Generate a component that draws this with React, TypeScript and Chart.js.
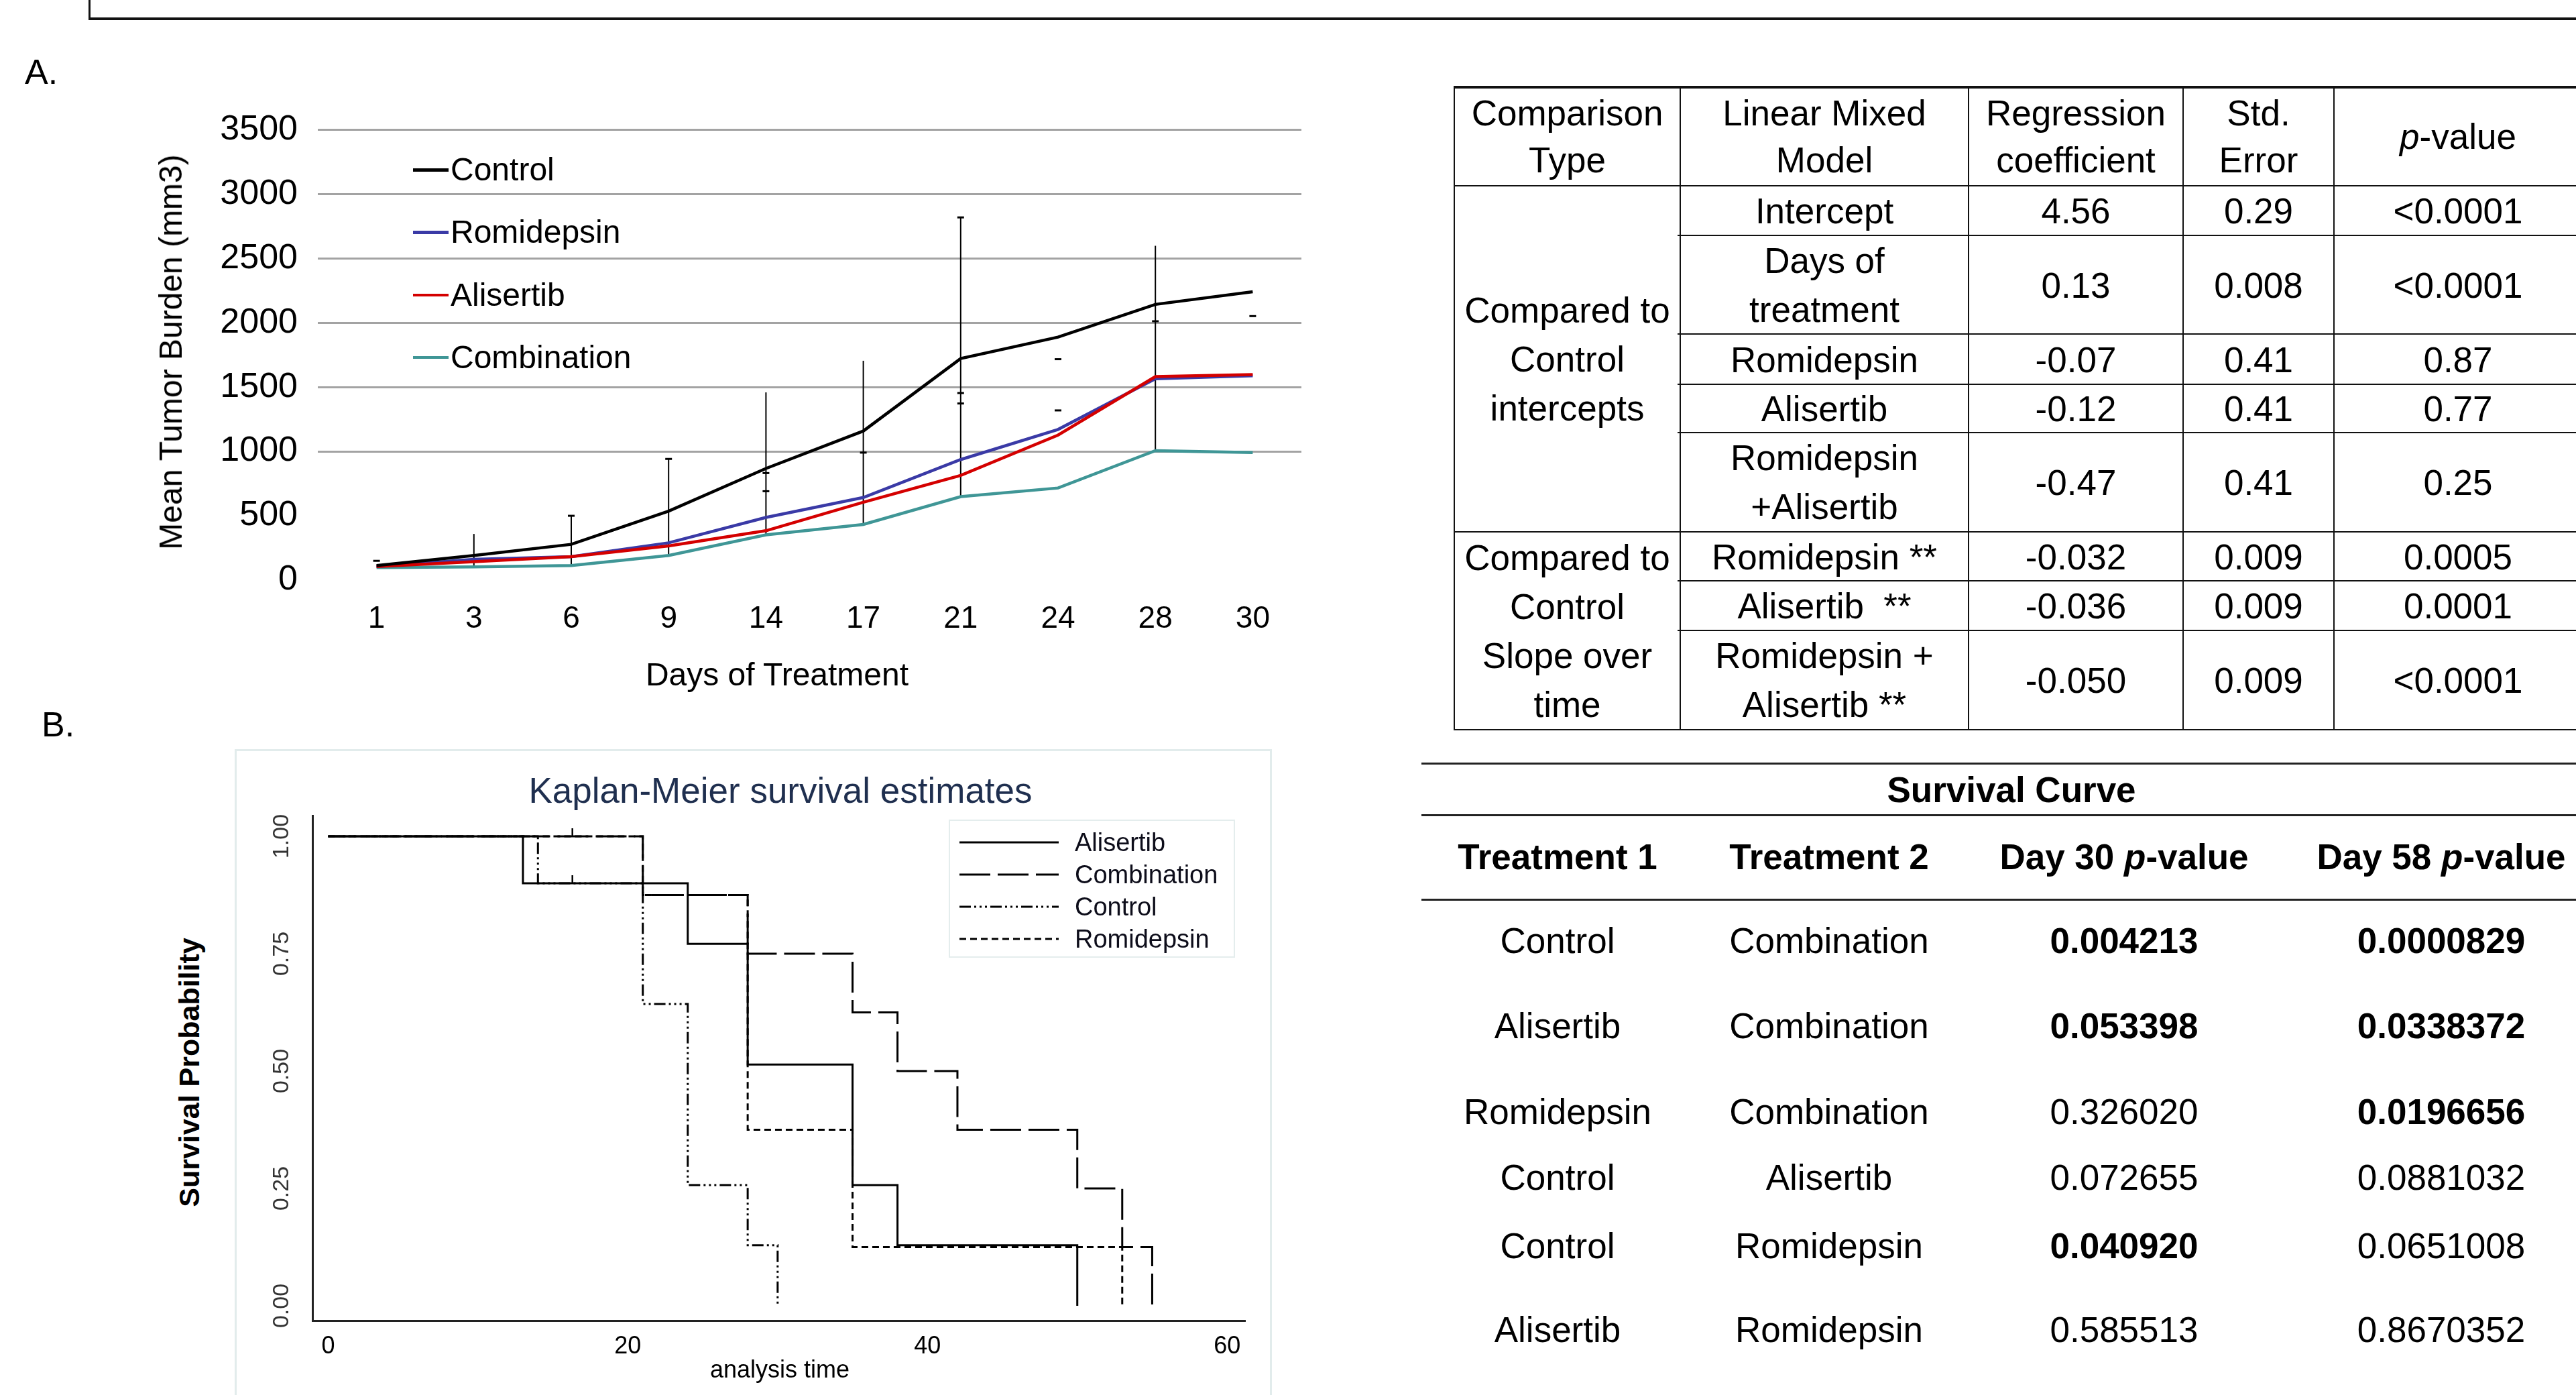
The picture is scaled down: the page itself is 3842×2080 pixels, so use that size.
import React, { useEffect, useRef } from "react";
import { Chart, registerables } from "chart.js";

Chart.register(...registerables);

const FONT = "'Liberation Sans', Arial, Helvetica, sans-serif";

// ---------------- Panel A: tumour burden ----------------
const days = ["1", "3", "6", "9", "14", "17", "21", "24", "28", "30"];
const controlMean = [113, 192, 278, 536, 868, 1159, 1722, 1889, 2143, 2241];
const romidepsinMean = [106, 162, 182, 290, 487, 642, 937, 1171, 1565, 1589];
const alisertibMean = [106, 143, 182, 266, 384, 605, 814, 1127, 1582, 1597];
const combinationMean = [98, 103, 113, 192, 352, 433, 649, 716, 1006, 991];
const errorBarLow = [null, 113, 113, 199, 347, 433, 649, null, 1006, null];
const errorBarHigh = [null, 359, 500, 942, 1459, 1705, 2819, null, 2598, null];
const errorBarCaps = [[150], [], [500], [942], [832, 691], [991], [1454, 1373, 2819], [1717, 1319], [2012], [2052]];
const tumorMin = 0;
const tumorMax = 3500;
const tumorStep = 500;
const tumorGridFrom = 1000;
const seriesNamesA = ["Control", "Romidepsin", "Alisertib", "Combination"];
const seriesColorsA = ["#000000", "#3a3aa6", "#d40000", "#3f9696"];

// ---------------- Panel B: Kaplan-Meier ----------------
const kmNames = ["Alisertib", "Combination", "Control", "Romidepsin"];
const kmTimeAlisertib = [0, 13, 24, 28, 35, 38, 50];
const kmSurvAlisertib = [1, 0.9, 0.771, 0.514, 0.257, 0.129, 0];
const kmTimeCombination = [0, 21, 28, 35, 38, 42, 50, 53, 55];
const kmSurvCombination = [1, 0.875, 0.75, 0.625, 0.5, 0.375, 0.25, 0.125, 0];
const kmTimeControl = [0, 14, 21, 24, 28, 30];
const kmSurvControl = [1, 0.9, 0.643, 0.257, 0.129, 0];
const kmTimeRomidepsin = [0, 21, 28, 35, 53];
const kmSurvRomidepsin = [1, 0.875, 0.375, 0.125, 0];
const kmCensorTime = [16.3, 16.3];
const kmCensorSurv = [1, 0.9];
const kmTimeTicks = [0, 20, 40, 60];
const kmSurvTicks = [0, 0.25, 0.5, 0.75, 1];
const kmDashes = [[], [46, 11], [17, 5, 3, 5, 3, 5, 3, 5], [10, 6]];

// ---------------- Regression table ----------------
const regHeaders = ["Comparison\nType", "Linear Mixed\nModel", "Regression\ncoefficient", "Std.\nError", "p-value"];
const regGroups = ["Compared to\nControl\nintercepts", "Compared to\nControl\nSlope over\ntime"];
const regGroupSpans = [5, 3];
const regModel = ["Intercept", "Days of\ntreatment", "Romidepsin", "Alisertib", "Romidepsin\n+Alisertib", "Romidepsin **", "Alisertib  **", "Romidepsin +\nAlisertib **"];
const regCoef = ["4.56", "0.13", "-0.07", "-0.12", "-0.47", "-0.032", "-0.036", "-0.050"];
const regSE = ["0.29", "0.008", "0.41", "0.41", "0.41", "0.009", "0.009", "0.009"];
const regP = ["<0.0001", "<0.0001", "0.87", "0.77", "0.25", "0.0005", "0.0001", "<0.0001"];

// ---------------- Survival table ----------------
const survTitle = "Survival Curve";
const survT1 = ["Control", "Alisertib", "Romidepsin", "Control", "Control", "Alisertib"];
const survT2 = ["Combination", "Combination", "Combination", "Alisertib", "Romidepsin", "Romidepsin"];
const survP30 = ["0.004213", "0.053398", "0.326020", "0.072655", "0.040920", "0.585513"];
const survP58 = ["0.0000829", "0.0338372", "0.0196656", "0.0881032", "0.0651008", "0.8670352"];
const survP30Bold = [true, true, false, false, true, false];
const survP58Bold = [true, true, true, false, false, false];

// ---------------- layout (page pixels) ----------------
const A_CANVAS = { left: 0, top: 100, width: 2000, height: 1000 };
const B_CANVAS = { left: 350, top: 1117, width: 1550, height: 963 };
const REG_COLS = [2169, 2506, 2936, 3256, 3481, 3851];
const REG_ROWS = [130, 277, 351, 498, 573, 645, 793, 866, 940, 1088];
const SURV_COLS = [2323, 2728, 3168, 3641];
const SURV_ROWS = [1402, 1529, 1657, 1755, 1857, 1982];

const errorBarPlugin = {
  id: "errorBars",
  beforeDatasetsDraw(chart: any) {
    const { ctx } = chart;
    const x = chart.scales.x;
    const y = chart.scales.y;
    ctx.save();
    ctx.strokeStyle = "#000";
    days.forEach((_, i) => {
      const px = x.getPixelForValue(i);
      const lo = errorBarLow[i];
      const hi = errorBarHigh[i];
      if (lo != null && hi != null) {
        ctx.lineWidth = 2;
        ctx.beginPath();
        ctx.moveTo(px, y.getPixelForValue(lo));
        ctx.lineTo(px, y.getPixelForValue(hi));
        ctx.stroke();
      }
      ctx.lineWidth = 3;
      errorBarCaps[i].forEach((v) => {
        const py = y.getPixelForValue(v);
        ctx.beginPath();
        ctx.moveTo(px - 5, py);
        ctx.lineTo(px + 5, py);
        ctx.stroke();
      });
    });
    ctx.restore();
  },
};

const kmPlugin = {
  id: "kmExtras",
  afterDatasetsDraw(chart: any) {
    const { ctx } = chart;
    const x = chart.scales.x;
    const y = chart.scales.y;
    ctx.save();
    ctx.strokeStyle = "#000";
    ctx.lineWidth = 2.5;
    kmCensorTime.forEach((t, i) => {
      const px = x.getPixelForValue(t);
      const py = y.getPixelForValue(kmCensorSurv[i]);
      ctx.beginPath();
      ctx.moveTo(px, py);
      ctx.lineTo(px, py - 12);
      ctx.stroke();
    });
    ctx.fillStyle = "#333";
    ctx.font = `34px ${FONT}`;
    ctx.textAlign = "center";
    ctx.textBaseline = "middle";
    kmSurvTicks.forEach((v) => {
      const py = y.getPixelForValue(v);
      ctx.save();
      ctx.translate(x.left - 45, py);
      ctx.rotate(-Math.PI / 2);
      ctx.fillText(v.toFixed(2), 0, 0);
      ctx.restore();
    });
    ctx.restore();
  },
};

function kmPoints(times: number[], surv: number[]) {
  return times.map((t, i) => ({ x: t, y: surv[i] }));
}

type TxtProps = {
  x: number;
  y: number;
  size: number;
  children: React.ReactNode;
  align?: "center" | "left";
  bold?: boolean;
  color?: string;
  rotate?: boolean;
  lineHeight?: number;
};

function Txt({ x, y, size, children, align = "center", bold, color = "#000", rotate, lineHeight }: TxtProps) {
  const tx = align === "center" ? "-50%" : "0";
  return (
    <div
      style={{
        position: "absolute",
        left: x,
        top: y,
        fontSize: size,
        lineHeight: `${lineHeight ?? size}px`,
        fontFamily: FONT,
        fontWeight: bold ? 700 : 400,
        color,
        whiteSpace: "pre",
        textAlign: "center",
        transform: `translate(${tx}, -50%)${rotate ? " rotate(-90deg)" : ""}`,
        transformOrigin: align === "center" ? "50% 50%" : "0 50%",
      }}
    >
      {children}
    </div>
  );
}

function HLine({ x1, x2, y, w = 3, color = "#111" }: { x1: number; x2: number; y: number; w?: number; color?: string }) {
  return <div style={{ position: "absolute", left: x1, top: y - w / 2, width: x2 - x1, height: w, background: color }} />;
}
function VLine({ x, y1, y2, w = 3, color = "#111" }: { x: number; y1: number; y2: number; w?: number; color?: string }) {
  return <div style={{ position: "absolute", left: x - w / 2, top: y1, width: w, height: y2 - y1, background: color }} />;
}

function PValueLabel({ prefix }: { prefix?: string }) {
  return (
    <span>
      {prefix}
      <i>p</i>-value
    </span>
  );
}

export default function App() {
  const aRef = useRef<HTMLCanvasElement>(null);
  const bRef = useRef<HTMLCanvasElement>(null);

  useEffect(() => {
    const charts: Chart[] = [];
    if (aRef.current) {
      const means = [controlMean, romidepsinMean, alisertibMean, combinationMean];
      const order = [0, 2, 1, 3];
      charts.push(
        new Chart(aRef.current, {
          type: "line",
          data: {
            labels: days,
            datasets: order.map((k) => ({
              label: seriesNamesA[k],
              data: means[k],
              borderColor: seriesColorsA[k],
              backgroundColor: seriesColorsA[k],
              borderWidth: 4.5,
              pointRadius: 0,
              tension: 0,
              fill: false,
            })),
          },
          options: {
            animation: false,
            responsive: false,
            devicePixelRatio: 1,
            events: [],
            layout: { padding: { top: 93.5, right: 59, left: 0, bottom: 0 } },
            plugins: { legend: { display: false }, tooltip: { enabled: false }, title: { display: false } },
            scales: {
              x: {
                type: "category",
                offset: true,
                grid: { display: false, drawTicks: false },
                border: { display: false },
                ticks: { font: { family: FONT, size: 46 }, color: "#000", padding: 31, maxRotation: 0, autoSkip: false },
                afterFit: (s: any) => {
                  s.height = 235;
                },
              },
              y: {
                min: tumorMin,
                max: tumorMax,
                ticks: {
                  stepSize: tumorStep,
                  font: { family: FONT, size: 52 },
                  color: "#000",
                  padding: 30,
                  callback: (v: any) => `${v}`,
                },
                grid: {
                  color: (c: any) => (c.tick && c.tick.value >= tumorGridFrom ? "#a3a3a3" : "rgba(0,0,0,0)"),
                  lineWidth: 3,
                  tickLength: 15,
                  drawTicks: true,
                },
                border: { display: false },
                afterFit: (s: any) => {
                  s.width = 489;
                },
              },
            },
          } as any,
          plugins: [errorBarPlugin],
        })
      );
    }
    if (bRef.current) {
      const times = [kmTimeAlisertib, kmTimeCombination, kmTimeControl, kmTimeRomidepsin];
      const survs = [kmSurvAlisertib, kmSurvCombination, kmSurvControl, kmSurvRomidepsin];
      charts.push(
        new Chart(bRef.current, {
          type: "line",
          data: {
            datasets: kmNames.map((n, k) => ({
              label: n,
              data: kmPoints(times[k], survs[k]),
              borderColor: "#000",
              borderWidth: 3,
              borderDash: kmDashes[k],
              stepped: "before",
              pointRadius: 0,
              tension: 0,
              fill: false,
            })),
          },
          options: {
            animation: false,
            responsive: false,
            devicePixelRatio: 1,
            events: [],
            layout: { padding: { top: 99, right: 43, left: 0, bottom: 0 } },
            plugins: { legend: { display: false }, tooltip: { enabled: false }, title: { display: false } },
            scales: {
              x: {
                type: "linear",
                min: -1.05,
                max: 61.2,
                grid: { display: false, drawTicks: false },
                border: { display: true, color: "#222", width: 3 },
                ticks: { font: { family: FONT, size: 36 }, color: "#000", padding: 17, maxRotation: 0 },
                afterBuildTicks: (s: any) => {
                  s.ticks = kmTimeTicks.map((v) => ({ value: v }));
                },
                afterFit: (s: any) => {
                  s.height = 111;
                },
              },
              y: {
                type: "linear",
                min: -0.0314,
                max: 1.0443,
                grid: { display: false, drawTicks: false },
                border: { display: true, color: "#222", width: 3 },
                ticks: { display: false },
                afterBuildTicks: (s: any) => {
                  s.ticks = kmSurvTicks.map((v) => ({ value: v }));
                },
                afterFit: (s: any) => {
                  s.width = 116;
                },
              },
            },
          } as any,
          plugins: [kmPlugin],
        })
      );
    }
    return () => charts.forEach((c) => c.destroy());
  }, []);

  // regression table cells
  const regCells: React.ReactNode[] = [];
  const colCenter = (c: number) => (REG_COLS[c] + REG_COLS[c + 1]) / 2;
  const rowCenter = (r0: number, r1: number) => (REG_ROWS[r0] + REG_ROWS[r1]) / 2;
  regHeaders.forEach((h, c) => {
    regCells.push(
      <Txt key={`h${c}`} x={colCenter(c)} y={rowCenter(0, 1)} size={53} lineHeight={70}>
        {c === 4 ? <PValueLabel /> : h}
      </Txt>
    );
  });
  let startRow = 1;
  regGroups.forEach((g, gi) => {
    const span = regGroupSpans[gi];
    regCells.push(
      <Txt key={`g${gi}`} x={colCenter(0)} y={rowCenter(startRow, startRow + span)} size={53} lineHeight={73}>
        {g}
      </Txt>
    );
    startRow += span;
  });
  regModel.forEach((m, i) => {
    const yc = rowCenter(i + 1, i + 2);
    [m, regCoef[i], regSE[i], regP[i]].forEach((t, k) => {
      regCells.push(
        <Txt key={`r${i}c${k}`} x={colCenter(k + 1)} y={yc} size={53} lineHeight={73}>
          {t}
        </Txt>
      );
    });
  });
  const regLines: React.ReactNode[] = [];
  REG_ROWS.forEach((ry, i) => {
    const full = i === 0 || i === 1 || i === 6 || i === REG_ROWS.length - 1;
    regLines.push(<HLine key={`rl${i}`} x1={full ? REG_COLS[0] - 1 : REG_COLS[1] - 4} x2={3842} y={ry} w={i === 0 ? 4 : 2.5} />);
  });
  REG_COLS.forEach((cx, i) => {
    regLines.push(<VLine key={`cl${i}`} x={cx} y1={REG_ROWS[0]} y2={REG_ROWS[REG_ROWS.length - 1]} w={2.5} />);
  });

  const legendA = seriesNamesA.map((n, i) => (
    <React.Fragment key={n}>
      <div style={{ position: "absolute", left: 616, top: 253 + i * 93.3 - 2, width: 53, height: 4.5, background: seriesColorsA[i] }} />
      <Txt x={672} y={253 + i * 93.3} size={48} align="left">
        {n}
      </Txt>
    </React.Fragment>
  ));

  const legendB = kmNames.map((n, i) => (
    <React.Fragment key={n}>
      <svg style={{ position: "absolute", left: 1431, top: 1256 + i * 48 - 4 }} width={150} height={8}>
        <line x1={0} y1={4} x2={148} y2={4} stroke="#000" strokeWidth={3} strokeDasharray={kmDashes[i].length ? kmDashes[i].join(" ") : undefined} />
      </svg>
      <Txt x={1603} y={1256 + i * 48} size={38} align="left" color="#0d0d1a">
        {n}
      </Txt>
    </React.Fragment>
  ));

  return (
    <div style={{ position: "absolute", left: 0, top: 0, width: 3842, height: 2080, overflow: "hidden", background: "#fff" }}>
      {/* top title frame (cut off) */}
      <div style={{ position: "absolute", left: 132, top: -10, width: 3842, height: 36, borderLeft: "3px solid #111", borderBottom: "4px solid #111" }} />

      <Txt x={37} y={107} size={52} align="left">
        A.
      </Txt>
      <Txt x={62} y={1080} size={52} align="left">
        B.
      </Txt>

      {/* Panel A */}
      <canvas
        ref={aRef}
        width={A_CANVAS.width}
        height={A_CANVAS.height}
        style={{ position: "absolute", left: A_CANVAS.left, top: A_CANVAS.top, width: A_CANVAS.width, height: A_CANVAS.height }}
      />
      <Txt x={255} y={525} size={48} rotate>
        Mean Tumor Burden (mm3)
      </Txt>
      <Txt x={1159} y={1006} size={48}>
        Days of Treatment
      </Txt>
      {legendA}

      {/* Panel B */}
      <div style={{ position: "absolute", left: 350, top: 1117, width: 1547, height: 1000, border: "3px solid #e2ecec", boxSizing: "border-box" }} />
      <canvas
        ref={bRef}
        width={B_CANVAS.width}
        height={B_CANVAS.height}
        style={{ position: "absolute", left: B_CANVAS.left, top: B_CANVAS.top, width: B_CANVAS.width, height: B_CANVAS.height }}
      />
      <Txt x={1164} y={1178} size={53} color="#1f2f4f">
        Kaplan-Meier survival estimates
      </Txt>
      <Txt x={282} y={1599} size={43} bold rotate>
        Survival Probability
      </Txt>
      <Txt x={1163} y={2042} size={36}>
        analysis time
      </Txt>
      <div style={{ position: "absolute", left: 1415, top: 1222, width: 427, height: 206, border: "2px solid #e4eded", boxSizing: "border-box" }} />
      {legendB}

      {/* Regression table */}
      {regLines}
      {regCells}

      {/* Survival table */}
      <HLine x1={2120} x2={3842} y={1138} w={3} color="#222" />
      <HLine x1={2120} x2={3842} y={1215} w={3} color="#222" />
      <HLine x1={2120} x2={3842} y={1341} w={3} color="#222" />
      <Txt x={3000} y={1177} size={53} bold>
        {survTitle}
      </Txt>
      <Txt x={SURV_COLS[0]} y={1277} size={53} bold>
        Treatment 1
      </Txt>
      <Txt x={SURV_COLS[1]} y={1277} size={53} bold>
        Treatment 2
      </Txt>
      <Txt x={SURV_COLS[2]} y={1277} size={53} bold>
        <PValueLabel prefix="Day 30 " />
      </Txt>
      <Txt x={SURV_COLS[3]} y={1277} size={53} bold>
        <PValueLabel prefix="Day 58 " />
      </Txt>
      {survT1.map((t, i) => (
        <React.Fragment key={`s${i}`}>
          <Txt x={SURV_COLS[0]} y={SURV_ROWS[i]} size={53}>
            {t}
          </Txt>
          <Txt x={SURV_COLS[1]} y={SURV_ROWS[i]} size={53}>
            {survT2[i]}
          </Txt>
          <Txt x={SURV_COLS[2]} y={SURV_ROWS[i]} size={53} bold={survP30Bold[i]}>
            {survP30[i]}
          </Txt>
          <Txt x={SURV_COLS[3]} y={SURV_ROWS[i]} size={53} bold={survP58Bold[i]}>
            {survP58[i]}
          </Txt>
        </React.Fragment>
      ))}
    </div>
  );
}
